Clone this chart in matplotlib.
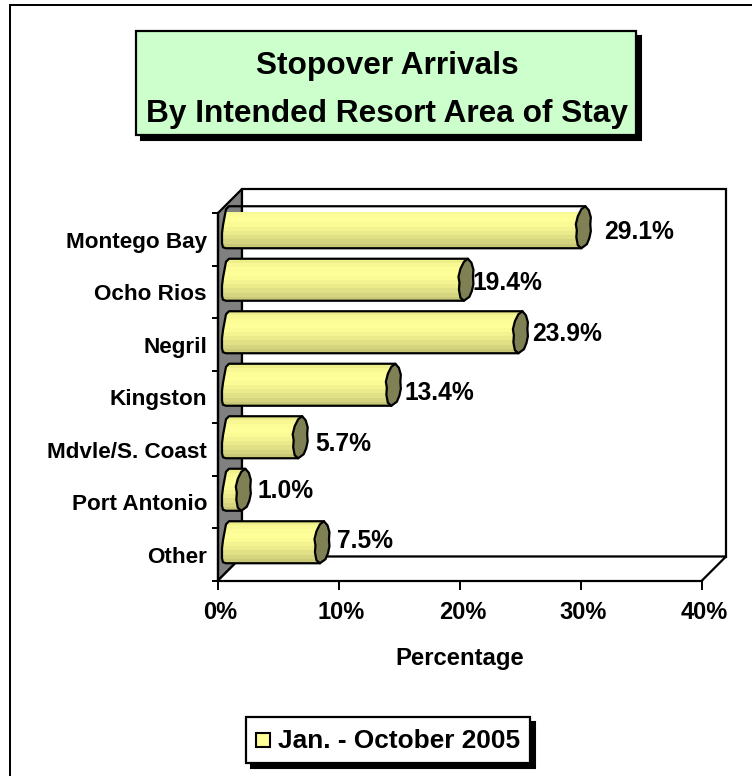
import numpy as np
import matplotlib
matplotlib.use('Agg')
import matplotlib.pyplot as plt
from matplotlib.patches import Rectangle, Polygon
from matplotlib.transforms import ScaledTranslation
from matplotlib.colors import ListedColormap

plt.rcParams['font.family'] = ['Liberation Sans', 'DejaVu Sans']
plt.rcParams['font.weight'] = 'bold'

areas = ['Montego Bay', 'Ocho Rios', 'Negril', 'Kingston', 'Mdvle/S. Coast', 'Port Antonio', 'Other']
share = [29.1, 19.4, 23.9, 13.4, 5.7, 1.0, 7.5]
xticks = [0, 10, 20, 30, 40]
title = 'Stopover Arrivals\nBy Intended Resort Area of Stay'
series = 'Jan. - October 2005'
xlabel = 'Percentage'

W, H = 752, 776
# label offsets from the bar end, pixels
label_gap = [22, 8, 13, 12, 16, 15, 16]
label_dy = [5, 3, 2, 8, 7, 1, -1]
bands = ['#eeee8a', '#f7f793', '#fdfd98', '#ffff99', '#fbfb96', '#f3f391', '#ebeb8c', '#e0e086', '#d5d580', '#c9c978']
cap_color = '#808055'
depth = 24
lw = 1.6

fig = plt.figure(figsize=(W / 100, H / 100), dpi=100)
# full figure axes in pixels for the frame and boxes
bg = fig.add_axes([0, 0, 1, 1])
bg.set_xlim(0, W)
bg.set_ylim(H, 0)
bg.axis('off')

bg.plot([10, 10], [H, 5], color='k', lw=1.44, solid_capstyle='butt')
bg.plot([9, W], [5, 5], color='k', lw=1.44, solid_capstyle='butt')


def shadow_box(x0, y0, x1, y1, face):
    bg.add_patch(Rectangle((x0 + 5, y0 + 5), x1 - x0, y1 - y0, fc='k', ec='k', lw=1.5))
    bg.add_patch(Rectangle((x0, y0), x1 - x0, y1 - y0, fc=face, ec='k', lw=lw))


shadow_box(136, 31, 636, 135, '#ccffcc')
bg.text(387, 90, title, ha='center', va='center', fontsize=22.8, linespacing=1.79)

shadow_box(246, 717, 530, 763, 'white')
bg.add_patch(Rectangle((256, 733), 14, 14, fc='#ffff99', ec='k', lw=1.5))
bg.text(278, 741, series, ha='left', va='center', fontsize=18.9)

# front plane of the 3d box
x0, x1 = 218, 702
y0, y1 = 213, 580.5
ax = fig.add_axes([x0 / W, 1 - y1 / H, (x1 - x0) / W, (y1 - y0) / H])
ax.patch.set_alpha(0)
for s in ax.spines.values():
    s.set_visible(False)
ax.set_xlim(0, 40)
ax.set_ylim(len(areas), 0)

px = (x1 - x0) / 40.0
py = (y1 - y0) / len(areas)
dx = depth / px
dy = depth / py

# walls
ax.add_patch(Polygon([(0, 0), (dx, -dy), (dx, 7 - dy), (0, 7)], closed=True, fc='#808080', ec='k', lw=lw, clip_on=False, zorder=1))
ax.add_patch(Polygon([(dx, -dy), (40 + dx, -dy), (40 + dx, 7 - dy), (dx, 7 - dy)], closed=True, fc='white', ec='k', lw=lw, clip_on=False, zorder=1))
ax.add_patch(Polygon([(0, 7), (dx, 7 - dy), (40 + dx, 7 - dy), (40, 7)], closed=True, fc='white', ec='none', clip_on=False, zorder=1))
ax.plot([dx, 40 + dx, 40], [7 - dy, 7 - dy, 7], color='k', lw=lw, clip_on=False, zorder=1.5)
ax.plot([0, dx], [7, 7 - dy], color='k', lw=lw, clip_on=False, zorder=1.5)
ax.plot([0, 40], [7, 7], color='k', lw=lw, clip_on=False, zorder=1.5)
ax.plot([0, 0], [0, 7], color='k', lw=lw, clip_on=False, zorder=1.5)

ax.set_yticks(np.arange(0, 8))
ax.set_yticklabels([])
ax.set_xticks(xticks)
ax.set_xticklabels(['%d%%' % t for t in xticks], fontsize=17)
ax.tick_params(axis='x', length=6.5, width=1.4, pad=8)
ax.tick_params(axis='y', length=4.5, width=1.4)
# tick labels sit a little right of their ticks
for lab in ax.get_xticklabels():
    lab.set_transform(lab.get_transform() + ScaledTranslation(2.5 / 100, 0, fig.dpi_scale_trans))

cmap = ListedColormap(bands)
band_img = np.arange(len(bands)).reshape(-1, 1)
half_h = 21 / py
xs = 0.33
left_end = [(4, 21), (1, 20), (0, 16), (0, 6), (1, -2), (2.5, -10), (4, -18), (7, -21)]
cap_end = [(2, -21), (5.5, -17), (7.5, -10), (7, -3), (7.5, 4), (6, 11), (3.5, 17), (-2, 21), (-5.5, 18), (-7, 10), (-6.5, 3), (-7.5, -3), (-5.5, -11), (-2, -18)]
for i, (name, v) in enumerate(zip(areas, share)):
    yc = i + 0.5 - 0.5 * dy
    xe = v + 0.5 * dx + 0.1

    # cylinder body, the top edge runs from the left end to the cap
    outline = [(xs + a / px, yc + b / py) for a, b in left_end]
    outline += [(xe + 2 / px, yc - 21 / py), (xe - 2 / px, yc + 21 / py)]
    body = Polygon(outline, closed=True, fc='none', ec='k', lw=lw, clip_on=False, zorder=3, joinstyle='round')
    ax.add_patch(body)
    im = ax.imshow(band_img, cmap=cmap, aspect='auto', extent=(xs, xe + 1, yc + half_h, yc - half_h), zorder=2, interpolation='nearest')
    im.set_clip_box(None)
    im.set_clip_path(body)

    # end cap, slightly lumpy as in the source
    cap = [(xe + a / px, yc + b / py) for a, b in cap_end]
    ax.add_patch(Polygon(cap, closed=True, fc=cap_color, ec='k', lw=lw, clip_on=False, zorder=4, joinstyle='round'))

    ax.text(v + 0.5 * dx + label_gap[i] / px, yc + label_dy[i] / py, '%.1f%%' % v, ha='left', va='center', fontsize=17.7, clip_on=False, zorder=5)
    ax.text(-11 / px, i + 0.5 + 3 / py, name, ha='right', va='center', fontsize=16.2, clip_on=False)

ax.set_xlim(0, 40)
ax.set_ylim(len(areas), 0)
bg.text(459.5, 658, xlabel, ha='center', va='center', fontsize=17.2)

fig.savefig('out.png', dpi=100)
